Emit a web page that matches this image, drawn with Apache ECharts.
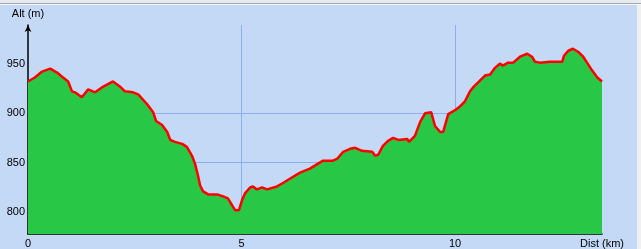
<!DOCTYPE html>
<html>
<head>
<meta charset="utf-8">
<script src="https://cdn.jsdelivr.net/npm/echarts@6/dist/echarts.min.js"></script>
<style>
html,body{margin:0;padding:0;width:641px;height:249px;overflow:hidden;background:#E6EBF2;}
#topline{position:absolute;left:0;top:3px;width:641px;height:1px;background:#A8A8A8;}
#topline2{position:absolute;left:0;top:4px;width:641px;height:1px;background:#F4F6FA;}
#chart{position:absolute;left:0;top:5px;width:637px;height:244px;}
#rightstrip{position:absolute;left:637px;top:5px;width:4px;height:244px;background:#F0F0F0;}
</style>
</head>
<body>
<div id="topline"></div><div id="topline2"></div>
<div id="chart"></div><div id="rightstrip"></div>
<script>
const distKm = [0.00,0.16,0.33,0.52,0.68,0.82,0.94,1.03,1.10,1.26,1.41,1.57,1.73,1.99,2.15,2.27,2.46,2.58,2.79,2.93,3.00,3.14,3.26,3.33,3.44,3.61,3.72,3.84,3.91,3.98,4.03,4.10,4.22,4.43,4.57,4.68,4.78,4.85,4.94,5.01,5.08,5.20,5.27,5.36,5.48,5.60,5.83,5.95,6.14,6.37,6.60,6.79,6.91,7.14,7.24,7.38,7.54,7.66,7.82,8.06,8.13,8.20,8.31,8.43,8.55,8.67,8.88,8.92,9.06,9.18,9.30,9.44,9.53,9.65,9.72,9.84,10.00,10.12,10.23,10.35,10.42,10.54,10.70,10.82,10.94,11.05,11.12,11.24,11.36,11.52,11.69,11.80,11.87,11.99,12.22,12.51,12.55,12.65,12.76,12.88,13.00,13.09,13.21,13.33,13.44];
const altM = [932,936,942,945,941,936,932,922,921,916,924,921,926,932,927,922,921,919,909,901,892,888,881,873,871,869,866,857,849,837,827,821,818,818,816,814,807,802,802,812,819,825,826,823,825,823,826,829,834,840,844,849,852,852,854,861,864,865,862,861,857,858,867,872,875,873,874,871,877,891,900,901,887,881,881,899,903,907,912,922,926,931,938,939,946,950,948,951,951,957,960,957,952,951,952,952,958,963,965,962,957,951,943,936,932];
const xTicks = [0,5,10];
const yTicks = [800,850,900,950];
const xName = 'Dist (km)';
const yName = 'Alt (m)';

const chart = echarts.init(document.getElementById('chart'), null, {renderer:'canvas'});
const data = distKm.map((d,i)=>[d, altM[i]]);
const gridColor = '#8EAEF2';
const font = 'Liberation Sans, Arial, sans-serif';
chart.setOption({
  backgroundColor:'#C4D9F6',
  animation:false,
  grid:{left:28,right:35,top:20,bottom:13,containLabel:false},
  xAxis:{
    type:'value', min:0, max:distKm[distKm.length-1], interval:5,
    name:xName, nameLocation:'end', nameGap:0,
    nameTextStyle:{color:'#000',fontFamily:font,fontSize:11,align:'center',verticalAlign:'top',padding:[4,0,0,0]},
    axisLine:{lineStyle:{color:'#000',width:1.5}},
    axisTick:{show:false},
    axisLabel:{color:'#000',fontFamily:font,fontSize:11,margin:4,showMaxLabel:false,
      formatter:v=> xTicks.indexOf(v)>=0 ? String(v) : ''},
    splitLine:{show:true,showMinLine:false,showMaxLine:false,lineStyle:{color:gridColor,width:1}}
  },
  yAxis:{
    type:'value', min:778, max:989,
    name:yName, nameLocation:'end', nameGap:6,
    nameTextStyle:{color:'#000',fontFamily:font,fontSize:11,align:'center'},
    axisLine:{show:true,symbol:['none','arrow'],symbolSize:[5,7],lineStyle:{color:'#000',width:1.5}},
    axisTick:{show:false,customValues:yTicks},
    axisLabel:{color:'#000',fontFamily:font,fontSize:11,margin:3,customValues:yTicks},
    splitLine:{show:true,showMinLine:false,showMaxLine:false,lineStyle:{color:gridColor,width:1}}
  },
  series:[{
    type:'line', data:data, symbol:'none', z:3,
    lineStyle:{color:'#FF0000',width:2.5},
    areaStyle:{color:'#28C846',opacity:1,origin:'start'}
  }]
});
</script>
</body>
</html>
